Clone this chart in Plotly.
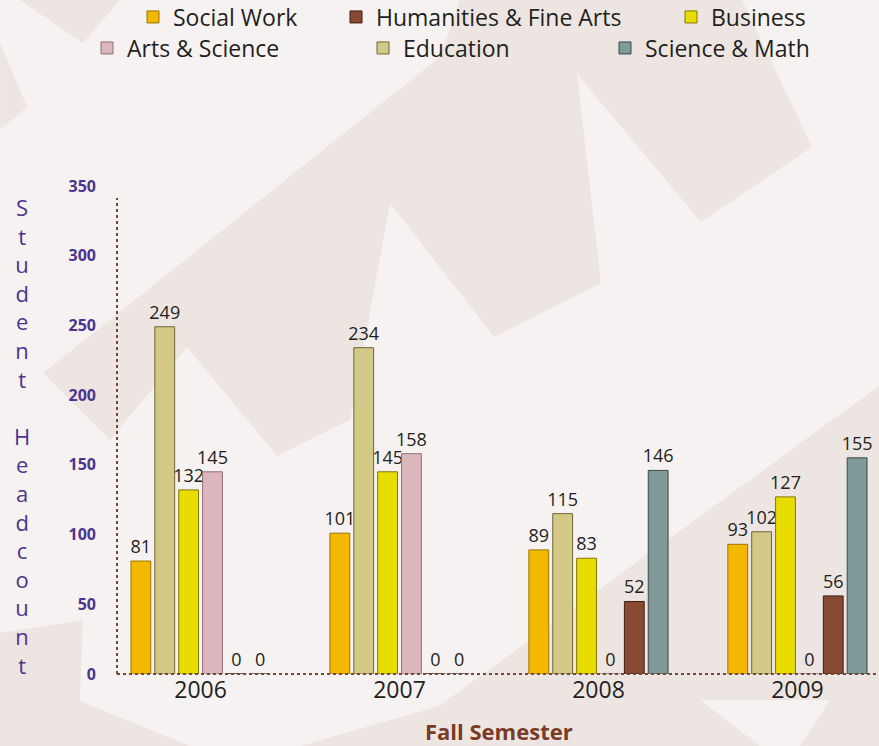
import plotly.graph_objects as go

# data
years = ["2006", "2007", "2008", "2009"]
social_work = [81, 101, 89, 93]
education = [249, 234, 115, 102]
business = [132, 145, 83, 127]
arts_science = [145, 158, 0, 0]
humanities = [0, 0, 52, 56]
science_math = [0, 0, 146, 155]

W, H = 879, 746
L, R, T, B = 117, 0, 165, 72
PW, PH = W - L - R, H - T - B


def px(x, y):
    # pixel -> paper coords
    return (x - L) / PW, (H - B - y) / PH


def poly(points):
    pts = [px(x, y) for x, y in points]
    return "M" + "L".join(f"{a:.4f},{b:.4f}" for a, b in pts) + "Z"


FONT = "Open Sans"
TXT = "#231f20"

series = [
    ("Social Work", social_work, "#f5b800", "#9a7400", "legend"),
    ("Education", education, "#d3c886", "#6e6636", "legend5"),
    ("Business", business, "#e8dc00", "#807700", "legend3"),
    ("Arts & Science", arts_science, "#dbb6bb", "#8c7276", "legend4"),
    ("Humanities & Fine Arts", humanities, "#874931", "#3e1f12", "legend2"),
    ("Science & Math", science_math, "#7f9a98", "#3a4a49", "legend6"),
]

fig = go.Figure()
for name, vals, col, edge, lg in series:
    fig.add_trace(go.Bar(
        x=years, y=vals, name=name,
        marker=dict(color=col, line=dict(color=edge, width=1)),
        text=[str(v) for v in vals], textposition="outside",
        constraintext="none",
        textfont=dict(family=FONT, size=18, color=TXT),
        cliponaxis=False, legend=lg,
    ))

# legend placement (text start x, row centre y) in pixels
leg_pos = {
    "legend": (175, 17), "legend2": (378, 17), "legend3": (713, 17),
    "legend4": (129, 48), "legend5": (405, 48), "legend6": (647, 48),
}
legends = {}
for key, (tx, ty) in leg_pos.items():
    lx, ly = px(tx - 42, ty)
    legends[key] = dict(
        x=lx, y=ly, xanchor="left", yanchor="middle",
        bgcolor="rgba(0,0,0,0)",
        font=dict(family=FONT, size=23, color=TXT),
        itemclick=False, itemdoubleclick=False,
    )

bg_dark = "#ede5e2"
bg_shapes = [
    [(20, 0), (83, 43), (120, 0)],
    [(0, 43), (27, 107), (0, 130)],
    [(460, 0), (742, 0), (812, 147), (701, 222), (577, 74), (601, 283),
     (494, 337), (390, 203), (350, 420), (277, 456), (187, 347), (110, 440),
     (43, 373), (440, 57)],
    [(0, 633), (83, 620), (80, 701), (190, 746), (0, 746)],
    [(439, 706), (879, 386), (879, 746), (800, 746), (830, 700), (700, 700),
     (760, 746), (300, 746)],
]
shapes = []
for pts in bg_shapes:
    shapes.append(dict(type="path", path=poly(pts), xref="paper", yref="paper",
                       fillcolor=bg_dark, line=dict(width=0), layer="below"))

# dotted axes
ax_col = "#7a4636"
x0, ytop = px(117, 198)
shapes.append(dict(type="line", xref="paper", yref="paper", x0=0, x1=0,
                   y0=0, y1=ytop, line=dict(color=ax_col, width=2, dash="dot")))
shapes.append(dict(type="line", xref="paper", yref="paper", x0=0, x1=1,
                   y0=0, y1=0, line=dict(color=ax_col, width=2, dash="dot")))

ytitle = "<br>".join(list("Student") + [" "] + list("Headcount"))
yt_x, yt_y = px(22, 436)
ft_x, ft_y = px(499, 731)

fig.update_layout(
    width=W, height=H,
    margin=dict(l=L, r=R, t=T, b=B, autoexpand=False),
    paper_bgcolor="#f5f2f1", plot_bgcolor="rgba(0,0,0,0)",
    barmode="group", bargap=0.28, bargroupgap=0.17,
    showlegend=True,
    shapes=shapes,
    **legends,
    annotations=[
        dict(text=ytitle, x=yt_x, y=yt_y, xref="paper", yref="paper",
             showarrow=False, xanchor="center", yanchor="middle",
             align="center",
             font=dict(family=FONT, size=22, color="#4b3590")),
        dict(text="<b>Fall Semester</b>", x=ft_x, y=ft_y,
             xref="paper", yref="paper", showarrow=False,
             xanchor="center", yanchor="middle",
             font=dict(family=FONT, size=22, color="#7a3b26")),
    ],
    xaxis=dict(
        range=[-0.42, 3.41], showgrid=False, zeroline=False, showline=False,
        ticks="", tickfont=dict(family=FONT, size=23, color=TXT),
    ),
    yaxis=dict(
        range=[0, 365], tickvals=[0, 50, 100, 150, 200, 250, 300, 350],
        showgrid=False, zeroline=False, showline=False, ticks="",
        ticklabelstandoff=20,
        tickfont=dict(family=FONT, size=16, color="#4b3590", weight="bold"),
    ),
)

fig.write_html("out.html", config={"displayModeBar": False},
               post_script="document.body.style.margin='0';")
